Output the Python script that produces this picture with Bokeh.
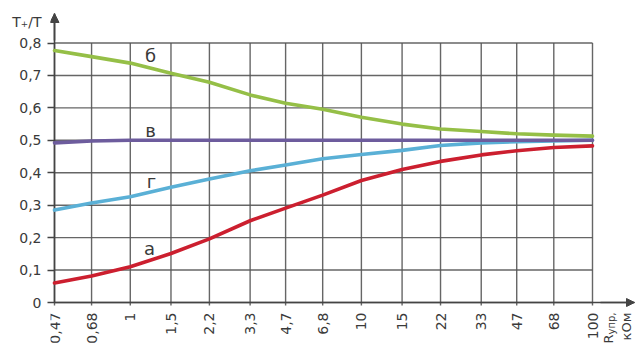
import math

from bokeh.plotting import figure
from bokeh.models import Range1d, FixedTicker, Arrow, NormalHead, Label, ColumnDataSource
from bokeh.core.properties import value
from bokeh.embed import file_html
from bokeh.resources import INLINE

# Control resistance, kOhm (log axis)
r_values = [0.47, 0.68, 1, 1.5, 2.2, 3.3, 4.7, 6.8, 10, 15, 22, 33, 47, 68, 100]
x_tick_labels = ["0,47", "0,68", "1", "1,5", "2,2", "3,3", "4,7", "6,8",
                 "10", "15", "22", "33", "47", "68", "100"]

y_ticks = [0, 0.1, 0.2, 0.3, 0.4, 0.5, 0.6, 0.7, 0.8]
y_tick_labels = ["0", "0,1", "0,2", "0,3", "0,4", "0,5", "0,6", "0,7", "0,8"]

# Relative pulse duration T+/T for the four circuit variants
curve_a = [0.060, 0.082, 0.110, 0.151, 0.196, 0.252, 0.291, 0.331,
           0.376, 0.410, 0.435, 0.455, 0.468, 0.478, 0.483]
curve_b = [0.777, 0.758, 0.738, 0.707, 0.679, 0.640, 0.614, 0.596,
           0.571, 0.550, 0.535, 0.527, 0.520, 0.516, 0.513]
curve_v = [0.492, 0.498, 0.500, 0.500, 0.500, 0.500, 0.500, 0.500,
           0.500, 0.500, 0.500, 0.500, 0.500, 0.500, 0.500]
curve_g = [0.285, 0.307, 0.326, 0.355, 0.381, 0.406, 0.424, 0.443,
           0.456, 0.469, 0.484, 0.492, 0.496, 0.498, 0.500]

FONT = "DejaVu Sans"
TEXT = "#3a3a3a"
GRID = "#555555"
AXIS = "#444444"

W, H = 635, 347
# the plotting frame runs down to the bottom edge, so the rotated x labels
# below the axis are drawn as text inside it
LEFT, RIGHT, TOP, BOTTOM = 50, 0, 10, 0

# pixel placement of the grid block: first/last x tick, y = 0 and y = 0.8
X0_PX, X1_PX = 54.0, 592.0
Y0_PX, Y1_PX = 302.0, 42.5
px_per_dec = (X1_PX - X0_PX) / (math.log10(r_values[-1]) - math.log10(r_values[0]))
px_per_unit = (Y0_PX - Y1_PX) / y_ticks[-1]


def px_x(px):
    return 10 ** (math.log10(r_values[0]) + (px - X0_PX) / px_per_dec)


def px_y(py):
    return (Y0_PX - py) / px_per_unit


p = figure(width=W, height=H, x_axis_type="log",
           x_range=Range1d(px_x(LEFT), px_x(W - RIGHT)),
           y_range=Range1d(px_y(H - BOTTOM), px_y(TOP)),
           output_backend="svg", toolbar_location=None,
           min_border_left=LEFT, min_border_right=RIGHT,
           min_border_top=TOP, min_border_bottom=BOTTOM)
p.outline_line_color = None
p.xgrid.visible = False
p.ygrid.visible = False
p.xaxis.visible = False
p.background_fill_color = "white"
p.border_fill_color = "white"

# grid, limited to the 0..0.8 / 0.47..100 block; the vertical lines poke
# a little below the axis as tick marks
x_tick_bottom = px_y(305)
p.segment(x0=r_values, y0=[x_tick_bottom] * len(r_values),
          x1=r_values, y1=[y_ticks[-1]] * len(r_values),
          line_color=GRID, line_width=1.4, line_alpha=0.9)
p.segment(x0=[r_values[0]] * len(y_ticks), y0=y_ticks,
          x1=[r_values[-1]] * len(y_ticks), y1=y_ticks,
          line_color=GRID, line_width=1.4, line_alpha=0.9)

# axis lines with arrow heads
y_tip = px_y(13)
x_tip = px_x(634)
p.segment(x0=[r_values[0], r_values[0]], y0=[0, 0],
          x1=[r_values[0], x_tip], y1=[y_tip, 0],
          line_color=AXIS, line_width=1.6)
p.add_layout(Arrow(end=NormalHead(size=9, fill_color=AXIS, line_color=AXIS),
                   x_start=r_values[0], y_start=px_y(40), x_end=r_values[0], y_end=y_tip,
                   line_color=AXIS, line_width=1.6))
p.add_layout(Arrow(end=NormalHead(size=8, fill_color=AXIS, line_color=AXIS),
                   x_start=px_x(600), y_start=0, x_end=x_tip, y_end=0,
                   line_color=AXIS, line_width=1.6))

# x tick labels, rotated, hanging below the axis
label_top = px_y(312)
p.text(x=r_values, y=[label_top] * len(r_values), text=x_tick_labels,
       angle=math.pi / 2, text_align="right", text_baseline="middle",
       text_font=value(FONT), text_font_size="14px", text_color=TEXT)

# x axis title: R with subscript "упр", then the unit on a second line
p.text(x=[px_x(610.5)], y=[label_top], text=["упр,"],
       angle=math.pi / 2, text_align="right", text_baseline="middle",
       text_font=value(FONT), text_font_size="10px", text_color=TEXT)
p.text(x=[px_x(608)], y=[px_y(334)], text=["R"],
       angle=math.pi / 2, text_align="right", text_baseline="middle",
       text_font=value(FONT), text_font_size="13px", text_color=TEXT)
p.text(x=[px_x(626)], y=[label_top], text=["кОм"],
       angle=math.pi / 2, text_align="right", text_baseline="middle",
       text_font=value(FONT), text_font_size="13px", text_color=TEXT)

# y axis: tick marks come from minor ticks (real values only); the axis
# title rides along as an extra major label near the arrow
y_title_pos = px_y(21.5)
y_title_txt = "T₊/T"

ax = p.yaxis[0]
ax.axis_line_color = None
ax.major_tick_line_color = None
ax.major_tick_out = 0
ax.major_tick_in = 0
ax.minor_tick_line_color = AXIS
ax.minor_tick_line_width = 1.3
ax.minor_tick_in = 4
ax.minor_tick_out = 3
ax.major_label_text_font = FONT
ax.major_label_text_font_size = "14px"
ax.major_label_text_color = TEXT
ax.major_label_standoff = 6
ax.ticker = FixedTicker(ticks=y_ticks + [y_title_pos], minor_ticks=y_ticks)
ax.major_label_overrides = dict(zip(y_ticks + [y_title_pos],
                                    y_tick_labels + [y_title_txt]))

# curves
series = [
    (curve_a, "#cc1f2f"),
    (curve_g, "#5ab0d6"),
    (curve_v, "#6d5c9d"),
    (curve_b, "#95bf47"),
]
for vals, color in series:
    src = ColumnDataSource(dict(r=r_values, t=vals))
    p.line("r", "t", source=src, line_color=color, line_width=3.6,
           line_cap="round", line_join="round")

# curve letters
for txt, px, py in [("б", 150, 54.5), ("в", 150, 129.5),
                    ("г", 151, 181), ("а", 149, 247.5)]:
    p.add_layout(Label(x=px_x(px), y=px_y(py), text=txt,
                       text_font=FONT, text_font_size="18px",
                       text_color=TEXT, text_align="center",
                       text_baseline="middle"))

open("out.html", "w").write(file_html(p, INLINE))
